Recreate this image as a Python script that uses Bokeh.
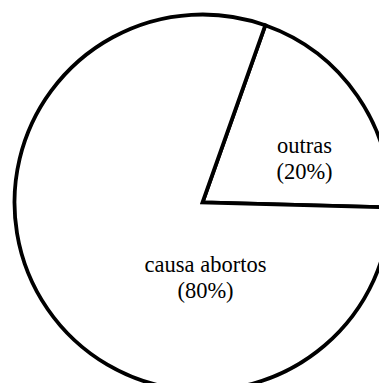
import numpy as np
from bokeh.plotting import figure
from bokeh.models import ColumnDataSource, Range1d
from bokeh.core.properties import value
from bokeh.embed import file_html
from bokeh.resources import INLINE

# Share of each cause, in percent
categories = ["outras", "causa abortos"]
shares = [20, 80]

W, H = 379, 383
cx, cy, r = 202, 181, 188
start_deg = -1.5

# Wedge angles from the shares, counter-clockwise from the start angle
fractions = np.array(shares) / sum(shares)
ends = np.cumsum(fractions) * 2 * np.pi + np.radians(start_deg)
starts = np.concatenate([[np.radians(start_deg)], ends[:-1]])

src = ColumnDataSource(dict(cat=categories, start=starts, end=ends))

p = figure(width=W, height=H, output_backend="svg", toolbar_location=None,
           x_range=Range1d(0, W), y_range=Range1d(0, H),
           min_border=0, outline_line_color=None, background_fill_color="white")
p.axis.visible = False
p.grid.visible = False

p.wedge(x=cx, y=cy, radius=r, start_angle="start", end_angle="end", source=src,
        fill_color="white", line_color="black", line_width=3.8, line_join="miter")

# Category name and percentage inside each slice
label_pos = {"outras": (304, 238, 212), "causa abortos": (205, 119, 93)}
for cat, share in zip(categories, shares):
    lx, ly1, ly2 = label_pos[cat]
    p.text(x=[lx, lx], y=[ly1, ly2], text=[cat, f"({share}%)"],
           text_font=value("Liberation Serif"), text_font_size="22.5px",
           text_align="center", text_baseline="alphabetic", text_color="black")

open("out.html", "w").write(file_html(p, INLINE))
